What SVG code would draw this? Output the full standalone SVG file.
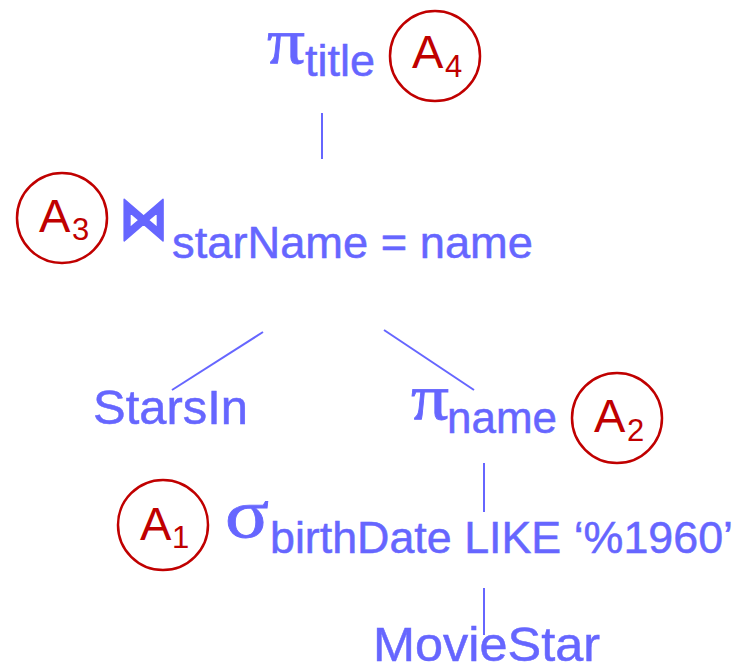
<svg xmlns="http://www.w3.org/2000/svg" width="735" height="670" viewBox="0 0 735 670">
  <style>
    .op { fill: #6666ff; stroke: #6666ff; stroke-width: 0.8; font-family: "Liberation Serif", "DejaVu Serif", serif; }
    .lbl { fill: #6666ff; stroke: #6666ff; stroke-width: 0.5; font-family: "Liberation Sans", Arial, sans-serif; }
    .tag { fill: #c00000; font-family: "Liberation Sans", Arial, sans-serif; }
    .ring { fill: none; stroke: #c00000; stroke-width: 2.5; }
    .edge { stroke: #6666ff; stroke-width: 2; fill: none; }
  </style>
  <rect width="735" height="670" fill="#ffffff"/>

  <g id="connectors">
    <line class="edge" x1="322" y1="113" x2="322" y2="159"/>
    <line class="edge" x1="263" y1="332" x2="172" y2="390"/>
    <line class="edge" x1="384" y1="330" x2="474" y2="390"/>
    <line class="edge" x1="484" y1="463" x2="484" y2="512"/>
    <line class="edge" x1="484" y1="588" x2="484" y2="635"/>
  </g>

  <g id="project-title">
    <text class="op" x="267" y="63" font-size="66" textLength="38" lengthAdjust="spacingAndGlyphs">π</text>
    <text class="lbl" x="305" y="76" font-size="45" textLength="70" lengthAdjust="spacingAndGlyphs">title</text>
  </g>
  <g id="A4">
    <circle class="ring" cx="435" cy="56" r="45"/>
    <text class="tag" x="412" y="68" font-size="47">A</text>
    <text class="tag" x="445" y="77" font-size="31">4</text>
  </g>

  <g id="join">
    <text transform="translate(119,238) scale(1.12,1.3)" font-size="44" font-weight="bold" fill="#6666ff" stroke="#6666ff" stroke-width="1.4" stroke-linejoin="round" font-family="DejaVu Sans, sans-serif">⋈</text>
    <text class="lbl" x="172" y="258" font-size="44" textLength="361" lengthAdjust="spacingAndGlyphs">starName = name</text>
  </g>
  <g id="A3">
    <circle class="ring" cx="62" cy="218" r="45"/>
    <text class="tag" x="39" y="232" font-size="47">A</text>
    <text class="tag" x="72" y="240" font-size="31">3</text>
  </g>

  <g id="starsin">
    <text class="lbl" x="93" y="424" font-size="49" textLength="155" lengthAdjust="spacingAndGlyphs">StarsIn</text>
  </g>

  <g id="project-name">
    <text class="op" x="411" y="419" font-size="66" textLength="38" lengthAdjust="spacingAndGlyphs">π</text>
    <text class="lbl" x="447" y="433" font-size="44" textLength="110" lengthAdjust="spacingAndGlyphs">name</text>
  </g>
  <g id="A2">
    <circle class="ring" cx="617" cy="418" r="45"/>
    <text class="tag" x="594" y="432" font-size="47">A</text>
    <text class="tag" x="627" y="441" font-size="31">2</text>
  </g>

  <g id="select">
    <text class="op" x="225" y="537" font-size="70" textLength="44" lengthAdjust="spacingAndGlyphs">σ</text>
    <text class="lbl" x="270" y="553" font-size="44" textLength="463" lengthAdjust="spacingAndGlyphs">birthDate LIKE ‘%1960’</text>
  </g>
  <g id="A1">
    <circle class="ring" cx="163" cy="525" r="45"/>
    <text class="tag" x="140" y="540" font-size="47">A</text>
    <text class="tag" x="172" y="548" font-size="31">1</text>
  </g>

  <g id="moviestar">
    <text class="lbl" x="373" y="661" font-size="49" textLength="227" lengthAdjust="spacingAndGlyphs">MovieStar</text>
  </g>
</svg>
